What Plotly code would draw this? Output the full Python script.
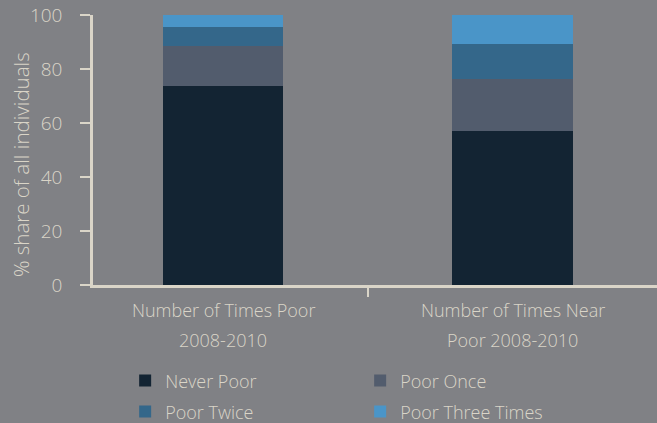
import plotly.graph_objects as go

categories = ["Number of Times Poor 2008-2010", "Number of Times Near Poor 2008-2010"]
label_line1 = ["Number of Times Poor", "Number of Times Near"]
label_line2 = ["2008-2010", "Poor 2008-2010"]

series_names = ["Never Poor", "Poor Once", "Poor Twice", "Poor Three Times"]
never_poor = [73.7, 57.0]
poor_once = [14.8, 19.3]
poor_twice = [7.1, 13.0]
poor_three = [4.4, 10.7]

colors = ["#132433", "#525c6d", "#34678a", "#4a95c8"]
bg = "#808185"
txt = "#dad5c8"
font = "Open Sans"

fig = go.Figure()
values = [never_poor, poor_once, poor_twice, poor_three]
legend_ids = ["legend", "legend", "legend2", "legend2"]
for name, vals, col, lg in zip(series_names, values, colors, legend_ids):
    fig.add_trace(go.Bar(x=categories, y=vals, name=name, marker_color=col,
                         marker_line_width=0, width=0.415, legend=lg, hoverinfo="skip"))

label_font = dict(family=font, size=18, color=txt, weight=300)

# two-line category labels
for cat, l1, l2 in zip(categories, label_line1, label_line2):
    fig.add_annotation(x=cat, y=0, xref="x", yref="paper", text=l1, showarrow=False,
                       yanchor="middle", yshift=-25, font=label_font)
    fig.add_annotation(x=cat, y=0, xref="x", yref="paper", text=l2, showarrow=False,
                       yanchor="middle", yshift=-55, font=label_font)

# y axis title
fig.add_annotation(x=0, y=0.444, xref="paper", yref="paper", xanchor="center", yanchor="middle",
                   xshift=-72, text="% share of all individuals", textangle=-90, showarrow=False,
                   font=dict(family=font, size=20.5, color=txt, weight=300))

fig.update_layout(
    width=657, height=423,
    margin=dict(l=93, r=0, t=15, b=138, autoexpand=False),
    paper_bgcolor=bg, plot_bgcolor=bg,
    barmode="stack",
    font=dict(family=font, size=16, color=txt),
    legend=dict(orientation="h", x=0.057, y=-0.355, xanchor="left", yanchor="middle",
                traceorder="normal", entrywidth=190, entrywidthmode="pixels",
                bgcolor="rgba(0,0,0,0)", font=label_font),
    legend2=dict(orientation="h", x=0.057, y=-0.47, xanchor="left", yanchor="middle",
                 traceorder="normal", entrywidth=190, entrywidthmode="pixels",
                 bgcolor="rgba(0,0,0,0)", font=label_font),
    xaxis=dict(range=[-0.449, 1.499], showticklabels=False, tickson="boundaries",
               ticks="outside", ticklen=9, tickwidth=2, tickcolor=txt,
               showline=True, linecolor=txt, linewidth=2.5, showgrid=False, zeroline=False),
    yaxis=dict(range=[0, 100], tickvals=[0, 20, 40, 60, 80, 100], ticks="outside",
               ticklen=10, tickwidth=2, tickcolor=txt, ticklabelstandoff=14,
               showline=True, linecolor=txt, linewidth=2.5, showgrid=False, zeroline=False,
               automargin=False,
               tickfont=dict(family=font, size=19, color=txt, weight=300)),
)

fig.write_html("out.html", config={"displayModeBar": False},
               post_script="document.body.style.margin='0';")
